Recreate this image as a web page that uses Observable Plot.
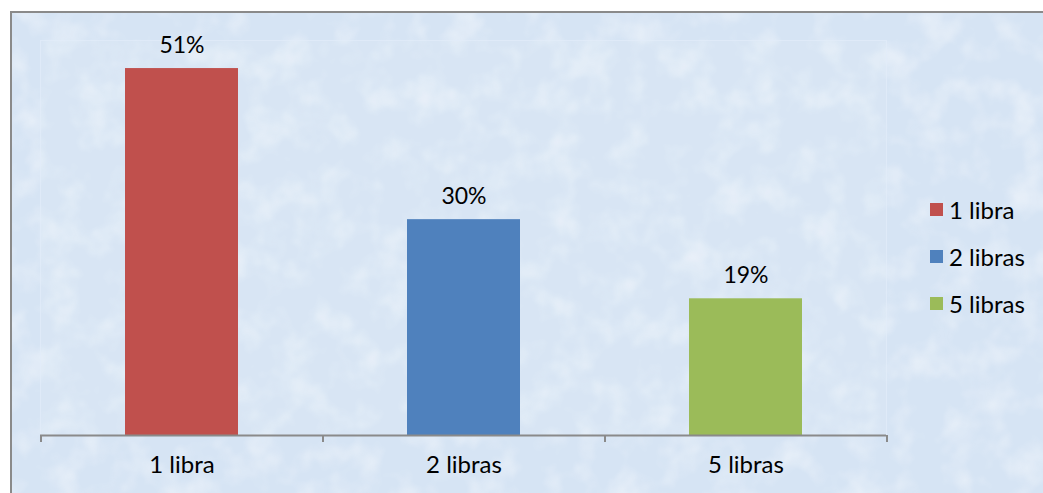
<!DOCTYPE html>
<html>
<head>
<meta charset="utf-8">
<script src="https://cdn.jsdelivr.net/npm/d3@7"></script>
<script src="https://cdn.jsdelivr.net/npm/@observablehq/plot@0.6"></script>
<style>
  html, body { margin: 0; padding: 0; background: #ffffff; }
  #wrap { position: relative; width: 1043px; height: 493px; overflow: hidden; font-family: Lato, "Open Sans", sans-serif; }
  #bg { position: absolute; left: 10px; top: 11px; width: 1050px; height: 500px; border-left: 2px solid #8a8a8a; border-top: 2px solid #8a8a8a; box-sizing: border-box; background-color: #d8e6f5; }
  #chart { position: absolute; left: 0; top: 0; }
  .legend { position: absolute; left: 930px; top: 0; font-size: 24px; color: #000; }
  .legend .row { position: absolute; left: 0; white-space: nowrap; display: flex; align-items: center; height: 28px; }
  .legend .sw { width: 13px; height: 13px; margin-right: 6px; }
</style>
</head>
<body>
<div id="wrap">
  <div id="bg"></div>
  <div id="chart"></div>
  <div class="legend" id="legend"></div>
</div>
<script>
const categories = ["1 libra", "2 libras", "5 libras"];
const values = [0.51, 0.30, 0.19];
const labels = ["51%", "30%", "19%"];
const colors = ["#C0504D", "#4F81BD", "#9BBB59"];

const data = categories.map((c, i) => ({category: c, value: values[i], label: labels[i]}));

// textured background
const tex = `<svg xmlns='http://www.w3.org/2000/svg' width='1050' height='500'><filter id='n'><feTurbulence type='fractalNoise' baseFrequency='0.03' numOctaves='3' seed='7'/><feColorMatrix values='0 0 0 0 1  0 0 0 0 1  0 0 0 0 1  0 0 0 1.6 -0.7'/></filter><rect width='100%' height='100%' fill='#d6e4f4'/><rect width='100%' height='100%' filter='url(#n)' opacity='0.55'/></svg>`;
document.getElementById("bg").style.backgroundImage = `url("data:image/svg+xml,${encodeURIComponent(tex)}")`;

const W = 1043, H = 493;
const mL = 40, mR = 157, mT = 40, mB = 58;
const step = (W - mL - mR) / categories.length;

const chart = Plot.plot({
  width: W,
  height: H,
  marginLeft: mL,
  marginRight: mR,
  marginTop: mT,
  marginBottom: mB,
  style: {background: "transparent", fontFamily: "Lato, 'Open Sans', sans-serif", fontSize: "24px", color: "#000"},
  x: {domain: categories, paddingInner: 0.6, paddingOuter: 0.3, label: null},
  y: {domain: [0, 0.549], axis: null},
  color: {domain: categories, range: colors},
  marks: [
    Plot.frame({stroke: "#e3edf9", strokeOpacity: 0.7, strokeWidth: 1, fill: "#ffffff", fillOpacity: 0.05}),
    Plot.barY(data, {x: "category", y: "value", fill: "category"}),
    Plot.text(data, {x: "category", y: "value", text: "label", dy: -23, fontSize: 23, fill: "#000"}),
    Plot.ruleY([0], {stroke: "#8a8a8a", strokeWidth: 2}),
    Plot.ruleX(categories, {x: d => d, y1: 0, y2: 0, insetBottom: -7, dx: -step / 2, stroke: "#8a8a8a", strokeWidth: 2}),
    Plot.ruleX(categories.slice(-1), {x: d => d, y1: 0, y2: 0, insetBottom: -7, dx: step / 2, stroke: "#8a8a8a", strokeWidth: 2}),
    Plot.axisX({tickSize: 0, tickPadding: 20, fontSize: 24, fill: "#000", label: null})
  ]
});
document.getElementById("chart").appendChild(chart);

const legend = document.getElementById("legend");
const rowCenters = [209, 256, 303];
categories.forEach((c, i) => {
  const row = document.createElement("div");
  row.className = "row";
  row.style.top = (rowCenters[i] - 14) + "px";
  const sw = document.createElement("span");
  sw.className = "sw";
  sw.style.background = colors[i];
  const t = document.createElement("span");
  t.textContent = c;
  row.appendChild(sw);
  row.appendChild(t);
  legend.appendChild(row);
});
</script>
</body>
</html>
